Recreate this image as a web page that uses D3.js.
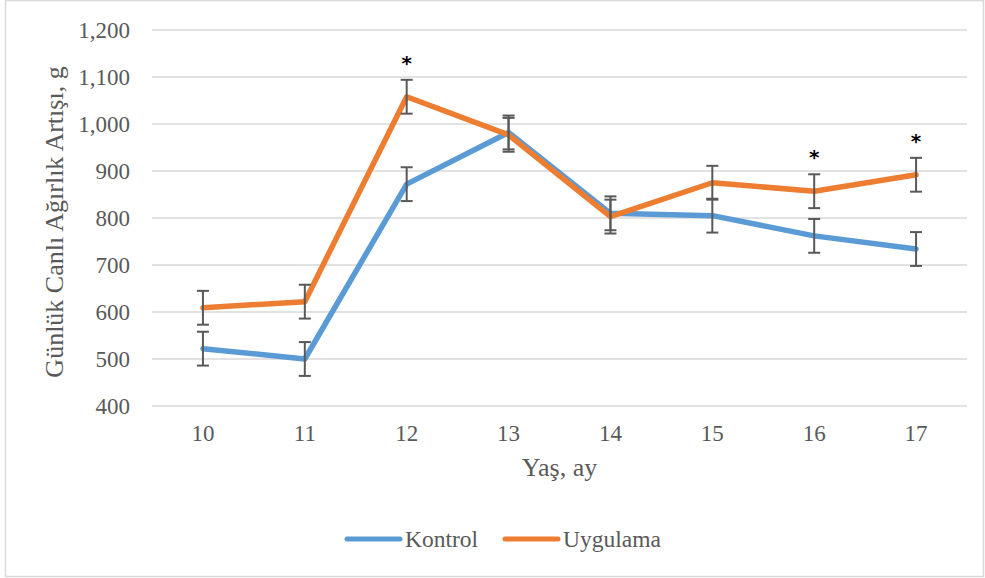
<!DOCTYPE html>
<html><head><meta charset="utf-8">
<script src="https://cdn.jsdelivr.net/npm/d3@7"></script>
<style>body{margin:0;background:#fff}svg{display:block}</style>
</head><body>
<script>
const categories = ["10","11","12","13","14","15","16","17"];
const kontrol = [522, 500, 872, 982, 810, 805, 762, 734];
const uygulama = [609, 622, 1058, 977, 803, 875, 857, 892];
const kontrolErr = [36, 36, 36, 36, 36, 36, 36, 36];
const uygulamaErr = [36, 36, 36, 36, 36, 36, 36, 36];
const significant = ["12", "16", "17"];
const yTicks = [400, 500, 600, 700, 800, 900, 1000, 1100, 1200];

const W = 985, H = 578;
const m = {left: 152, right: 967, top: 30, bottom: 406};
const svg = d3.select("body").append("svg").attr("width", W).attr("height", H);
const font = "'Liberation Serif', 'Times New Roman', serif";

svg.append("rect").attr("x", 5.5).attr("y", 0.5).attr("width", 978).attr("height", 576)
  .attr("fill", "#fff").attr("stroke", "#d9d9d9").attr("stroke-width", 1.5);

const x = d3.scaleBand().domain(categories).range([m.left, m.right]);
const y = d3.scaleLinear().domain([400, 1200]).range([m.bottom, m.top]);
const cx = d => x(d) + x.bandwidth() / 2;

// gridlines
svg.append("g").selectAll("line").data(yTicks).join("line")
  .attr("x1", m.left).attr("x2", m.right)
  .attr("y1", d => y(d)).attr("y2", d => y(d))
  .attr("stroke", "#d9d9d9").attr("stroke-width", 1.5);

// y axis labels
const yAxis = d3.axisLeft(y).tickValues(yTicks).tickFormat(d3.format(",")).tickSize(0).tickPadding(22);
const gy = svg.append("g").attr("transform", `translate(${m.left},0)`).call(yAxis);
gy.select(".domain").remove();
gy.selectAll("text").attr("font-family", font).attr("font-size", 23).attr("fill", "#595959");

// x axis labels
const xAxis = d3.axisBottom(x).tickSize(0).tickPadding(19);
const gx = svg.append("g").attr("transform", `translate(0,${m.bottom})`).call(xAxis);
gx.select(".domain").remove();
gx.selectAll("text").attr("font-family", font).attr("font-size", 23).attr("fill", "#595959");

// axis titles
svg.append("text").attr("x", (m.left + m.right) / 2).attr("y", 476)
  .attr("text-anchor", "middle").attr("font-family", font).attr("font-size", 26)
  .attr("fill", "#595959").text("Yaş, ay");
svg.append("text").attr("transform", `translate(63,222) rotate(-90)`)
  .attr("text-anchor", "middle").attr("font-family", font).attr("font-size", 26)
  .attr("fill", "#595959").text("Günlük Canlı Ağırlık Artışı, g");

const series = [
  {name: "Kontrol", values: kontrol, err: kontrolErr, color: "#5b9bd5"},
  {name: "Uygulama", values: uygulama, err: uygulamaErr, color: "#ed7d31"}
];

const line = d3.line().x((d, i) => cx(categories[i])).y(d => y(d));
series.forEach(s => {
  svg.append("path").datum(s.values).attr("d", line)
    .attr("fill", "none").attr("stroke", s.color).attr("stroke-width", 5.5)
    .attr("stroke-linejoin", "round").attr("stroke-linecap", "round");
});

// error bars
series.forEach(s => {
  const g = svg.append("g").attr("stroke", "#595959").attr("stroke-width", 2);
  s.values.forEach((v, i) => {
    const xc = cx(categories[i]);
    const top = y(v + s.err[i]), bot = y(v - s.err[i]);
    g.append("line").attr("x1", xc).attr("x2", xc).attr("y1", top).attr("y2", bot);
    g.append("line").attr("x1", xc - 6).attr("x2", xc + 6).attr("y1", top).attr("y2", top);
    g.append("line").attr("x1", xc - 6).attr("x2", xc + 6).attr("y1", bot).attr("y2", bot);
  });
});

// significance asterisks
significant.forEach(c => {
  const i = categories.indexOf(c);
  svg.append("text").attr("x", cx(c)).attr("y", y(uygulama[i] + uygulamaErr[i]) - 10)
    .attr("text-anchor", "middle").attr("font-family", "'DejaVu Sans', sans-serif")
    .attr("font-size", 20).attr("font-weight", "bold").attr("fill", "#000").text("*");
});

// legend
const legend = [{name: "Kontrol", color: "#5b9bd5", x: 347}, {name: "Uygulama", color: "#ed7d31", x: 505}];
legend.forEach(l => {
  svg.append("line").attr("x1", l.x).attr("x2", l.x + 53).attr("y1", 539).attr("y2", 539)
    .attr("stroke", l.color).attr("stroke-width", 5).attr("stroke-linecap", "round");
  svg.append("text").attr("x", l.x + 58).attr("y", 547).attr("font-family", font)
    .attr("font-size", 23.5).attr("fill", "#595959").text(l.name);
});
</script>
</body></html>
